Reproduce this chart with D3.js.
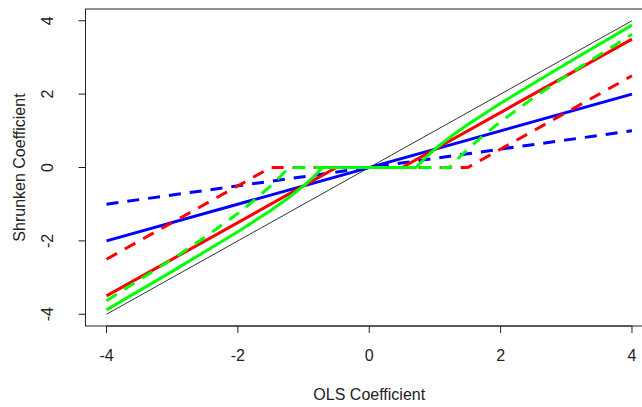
<!DOCTYPE html>
<html>
<head>
<meta charset="utf-8">
<script src="https://cdn.jsdelivr.net/npm/d3@7"></script>
<style>
  body { margin: 0; background: #fff; }
  text { font-family: "Liberation Sans", Arial, sans-serif; fill: #222; }
</style>
</head>
<body>
<svg width="642" height="407"></svg>
<script>
// values
var xTicks = [-4, -2, 0, 2, 4];
var yTicks = [-4, -2, 0, 2, 4];

var olsLine = [[-4, -4], [4, 4]];
var ridgeA = [[-4, -2], [4, 2]];
var ridgeB = [[-4, -1], [4, 1]];
var lassoA = [[-4, -3.5], [-0.5, 0], [0.5, 0], [4, 3.5]];
var lassoB = [[-4, -2.5], [-1.5, 0], [1.5, 0], [4, 2.5]];
var garroteA = [[-4, -3.88], [-3, -2.83], [-2, -1.75], [-1.5, -1.17], [-1.25, -0.85], [-1, -0.5], [-0.85, -0.26],
  [-0.71, 0], [0.71, 0], [0.85, 0.26], [1, 0.5], [1.25, 0.85], [1.5, 1.17], [2, 1.75], [3, 2.83], [4, 3.88]];
var garroteB = [[-4, -3.63], [-3, -2.5], [-2.5, -1.9], [-2, -1.25], [-1.75, -0.89], [-1.5, -0.5], [-1.35, -0.24],
  [-1.22, 0], [1.22, 0], [1.35, 0.24], [1.5, 0.5], [1.75, 0.89], [2, 1.25], [2.5, 1.9], [3, 2.5], [4, 3.63]];

var svg = d3.select("svg"),
    margin = {top: 9, right: -11, bottom: 81, left: 85.5},
    width = +svg.attr("width") - margin.left - margin.right,
    height = +svg.attr("height") - margin.top - margin.bottom;

var x = d3.scaleLinear().domain([-4.32, 4.32]).range([0, width]);
var y = d3.scaleLinear().domain([-4.32, 4.32]).range([height, 0]);

var g = svg.append("g").attr("transform", "translate(" + margin.left + "," + margin.top + ")");

var line = d3.line().x(function (d) { return x(d[0]); }).y(function (d) { return y(d[1]); });

var series = [
  {data: olsLine, color: "#333", w: 1, dash: null},
  {data: ridgeA, color: "#0000ff", w: 3, dash: null},
  {data: ridgeB, color: "#0000ff", w: 3, dash: "12,9"},
  {data: lassoA, color: "#ff0000", w: 3, dash: null},
  {data: lassoB, color: "#ff0000", w: 3, dash: "12,9"},
  {data: garroteA, color: "#00ff00", w: 3, dash: null},
  {data: garroteB, color: "#00ff00", w: 3, dash: "12,9"}
];

series.forEach(function (s) {
  g.append("path").datum(s.data)
    .attr("fill", "none")
    .attr("stroke", s.color)
    .attr("stroke-width", s.w)
    .attr("stroke-dasharray", s.dash)
    .attr("d", line);
});

// box
g.append("rect").attr("width", width).attr("height", height)
  .attr("fill", "none").attr("stroke", "#222").attr("stroke-width", 1);

// x axis
var xa = g.append("g").attr("transform", "translate(0," + height + ")");
xa.append("line").attr("x1", x(-4)).attr("x2", x(4)).attr("stroke", "#222");
xa.selectAll(".tick").data(xTicks).enter().append("line")
  .attr("x1", x).attr("x2", x).attr("y1", 0).attr("y2", 7).attr("stroke", "#222");
xa.selectAll(".lab").data(xTicks).enter().append("text")
  .attr("x", x).attr("y", 35)
  .attr("text-anchor", "middle").attr("font-size", 16)
  .text(function (d) { return d; });

// y axis
var ya = g.append("g");
ya.selectAll(".tick").data(yTicks).enter().append("line")
  .attr("x1", 0).attr("x2", -7).attr("y1", y).attr("y2", y).attr("stroke", "#222");
ya.selectAll(".lab").data(yTicks).enter().append("text")
  .attr("transform", function (d) { return "translate(-33," + y(d) + ") rotate(-90)"; })
  .attr("text-anchor", "middle").attr("font-size", 16)
  .text(function (d) { return d; });

svg.append("text").attr("x", margin.left + x(0)).attr("y", 400)
  .attr("text-anchor", "middle").attr("font-size", 16)
  .text("OLS Coefficient");
svg.append("text").attr("transform", "translate(25," + (margin.top + y(0)) + ") rotate(-90)")
  .attr("text-anchor", "middle").attr("font-size", 16)
  .text("Shrunken Coefficient");
</script>
</body>
</html>
